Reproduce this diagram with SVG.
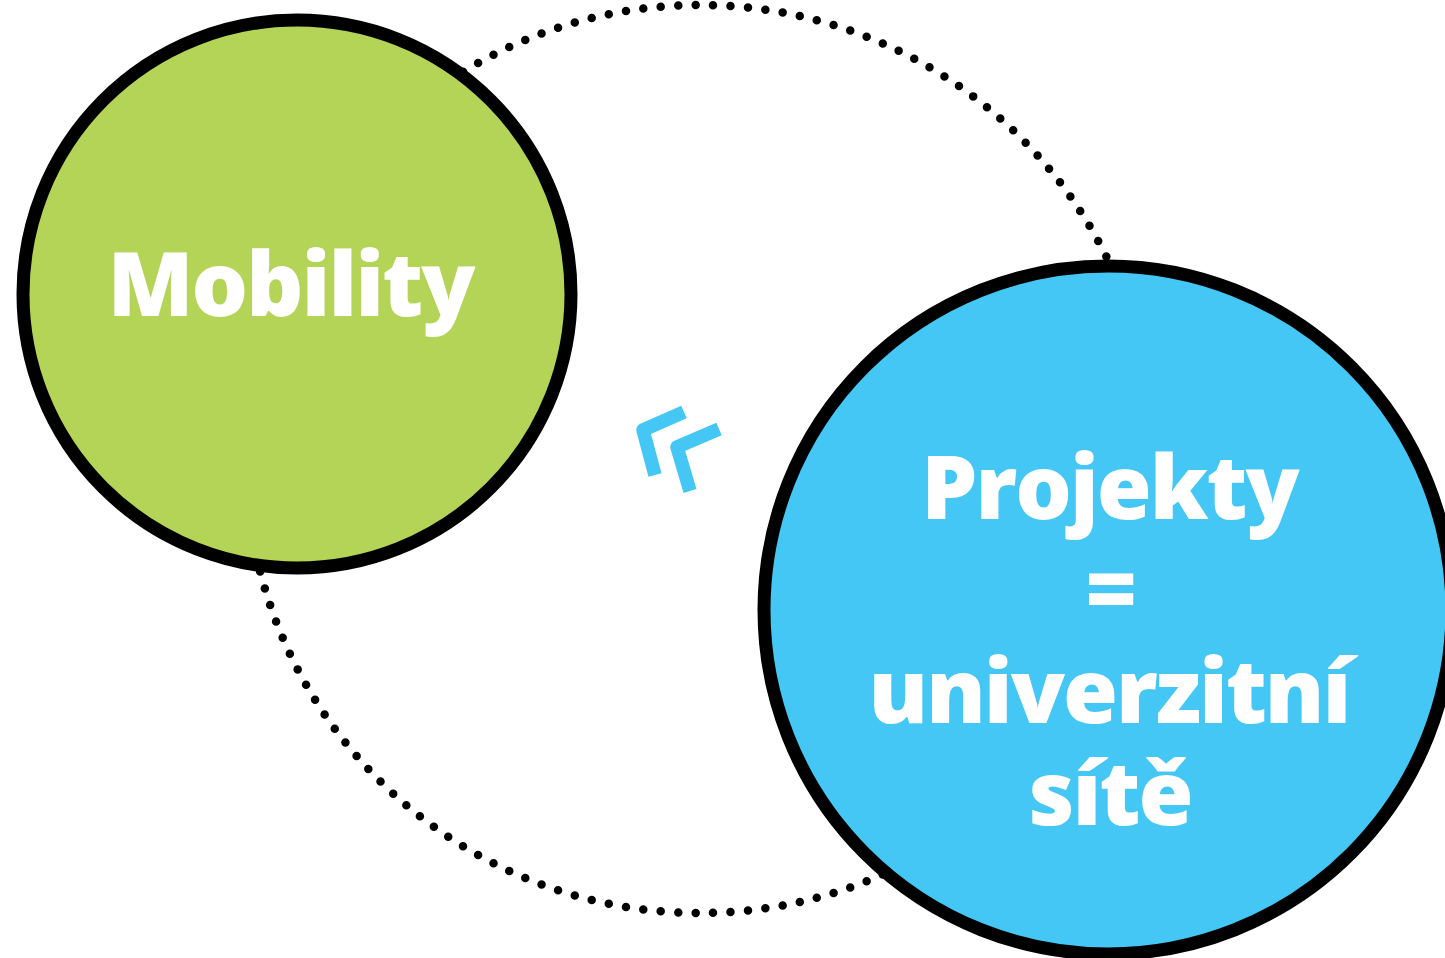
<svg xmlns="http://www.w3.org/2000/svg" width="1445" height="958" viewBox="0 0 1445 958">
  <style>
    .node { stroke: #000; stroke-width: 13; }
    .label { fill: #fff; font-family: "Open Sans", "Liberation Sans", sans-serif; font-weight: 800; font-size: 89px; letter-spacing: -2px; text-anchor: middle; }
    .dots { fill: none; stroke: #000; stroke-width: 8.5; stroke-linecap: round; stroke-dasharray: 0 1; }
    .chev { fill: none; stroke: #44C7F4; stroke-width: 13.5; stroke-linejoin: round; stroke-linecap: butt; }
  </style>
  <rect width="1445" height="958" fill="#fff"/>
  <g id="connectors">
    <circle class="dots" cx="700" cy="459" r="454" pathLength="163"/>
    <polyline class="chev" points="684,412 643,430 655,475"/>
    <polyline class="chev" points="719,429 677,447 690,491"/>
  </g>
  <g id="node-mobility">
    <circle class="node" cx="297" cy="294" r="274" fill="#B3D457"/>
    <text class="label" x="290.5" y="316">Mobility</text>
  </g>
  <g id="node-projekty">
    <circle class="node" cx="1108" cy="610" r="344" fill="#44C7F4"/>
    <text class="label" x="1109.5" y="519">Projekty</text>
    <text class="label" x="1110" y="621">=</text>
    <text class="label" x="1109" y="723">univerzitní</text>
    <text class="label" x="1110" y="825">sítě</text>
  </g>
</svg>
